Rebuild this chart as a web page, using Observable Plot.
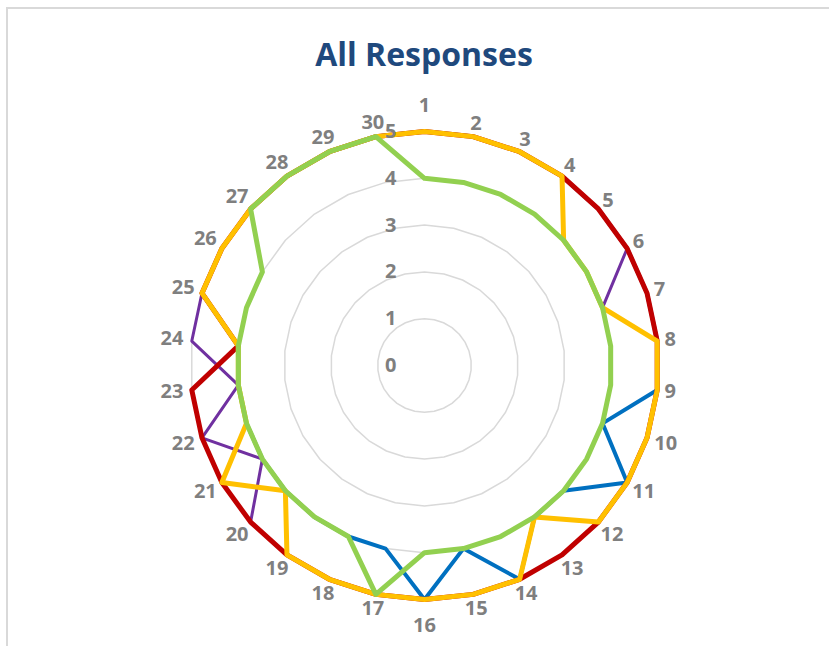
<!DOCTYPE html>
<html>
<head>
<meta charset="utf-8">
<script src="https://cdn.jsdelivr.net/npm/d3@7"></script>
<script src="https://cdn.jsdelivr.net/npm/@observablehq/plot@0.6"></script>
<style>
html, body { margin: 0; padding: 0; background: #fff; overflow: hidden; width: 829px; height: 646px; }
#frame { position: absolute; left: 6px; top: 7px; width: 900px; height: 700px; border-left: 2px solid #d9d9d9; border-top: 2px solid #d9d9d9; box-sizing: border-box; }
#title { position: absolute; left: 0; top: 32px; width: 848px; text-align: center; font-family: "Open Sans", sans-serif; font-weight: 700; font-size: 32px; line-height: 44px; color: #1F497D; margin: 0; }
#chart { position: absolute; left: 0; top: 90px; }
</style>
</head>
<body>
<div id="frame"></div>
<div id="title">All Responses</div>
<div id="chart"></div>
<script>
// ---- data ----
const categories = ["1","2","3","4","5","6","7","8","9","10","11","12","13","14","15","16","17","18","19","20","21","22","23","24","25","26","27","28","29","30"];
const levels = [0, 1, 2, 3, 4, 5];
const seriesNames = ["Series 1", "Series 2", "Series 3", "Series 4", "Series 5"];
const series1 = [5,5,5,5,5,5,5,5,5,4,5,4,4,5,4,5,4,4,4,4,4,4,4,4,5,5,5,5,5,5];
const series2 = [5,5,5,5,5,5,5,5,5,5,5,5,5,5,5,5,5,5,5,5,5,5,5,4,5,5,5,5,5,5];
const series3 = [5,5,5,5,5,5,4,5,5,5,5,5,5,5,5,5,5,5,5,5,4,5,4,5,5,5,5,5,5,5];
const series4 = [5,5,5,5,4,4,4,5,5,5,5,5,4,5,5,5,5,5,5,4,5,4,4,4,5,5,5,5,5,5];
const series5 = [4,4,4,4,4,4,4,4,4,4,4,4,4,4,4,4,5,4,4,4,4,4,4,4,4,4,5,5,5,5];

// ---- styling ----
const colors = {"Series 1": "#0070C0", "Series 2": "#C00000", "Series 3": "#7030A0", "Series 4": "#FFC000", "Series 5": "#92D050"};
const widths = {"Series 1": 4, "Series 2": 5, "Series 3": 3, "Series 4": 5, "Series 5": 5};
const drawOrder = ["Series 3", "Series 1", "Series 2", "Series 4", "Series 5"];
const valuesByName = {"Series 1": series1, "Series 2": series2, "Series 3": series3, "Series 4": series4, "Series 5": series5};

const N = categories.length;
const ang = i => i * 2 * Math.PI / N;
const R = 234;          // px for value 5
const unit = R / 5;     // px per unit
const cx = 424, cy = 365 - 90;

const gridRows = levels.filter(l => l > 0).flatMap(l => categories.map((c, i) => ({level: l, i})));

const lineMarks = drawOrder.map(name => {
  const rows = categories.map((c, i) => ({cat: c, i, v: valuesByName[name][i], series: name}));
  return Plot.line(rows, {
    x: d => d.v * Math.sin(ang(d.i)),
    y: d => d.v * Math.cos(ang(d.i)),
    curve: "linear-closed",
    stroke: colors[name],
    strokeWidth: widths[name],
    strokeLinejoin: "round"
  });
});

const labelR = (c, i) => {
  const s = Math.abs(Math.sin(ang(i))), co = Math.abs(Math.cos(ang(i)));
  return (247 + (co > 0.99 ? 13 : 0) + (c.length - 1) * 7 * s) / unit;
};

const chart = Plot.plot({
  width: 829,
  height: 556,
  margin: 0,
  x: {domain: [-5, 5], range: [cx - R, cx + R], axis: null},
  y: {domain: [-5, 5], range: [cy + R, cy - R], axis: null},
  style: {fontFamily: "Open Sans, sans-serif", background: "transparent"},
  marks: [
    Plot.line(gridRows, {
      x: d => d.level * Math.sin(ang(d.i)),
      y: d => d.level * Math.cos(ang(d.i)),
      z: "level",
      curve: "linear-closed",
      stroke: "#d9d9d9",
      strokeWidth: 1.5
    }),
    ...lineMarks,
    Plot.text(categories, {
      x: (c, i) => labelR(c, i) * Math.sin(ang(i)),
      y: (c, i) => labelR(c, i) * Math.cos(ang(i)),
      text: d => d,
      fill: "#7F7F7F",
      fontWeight: "bold",
      fontSize: 20,
      textAnchor: "middle",
      lineAnchor: "middle"
    }),
    Plot.text(levels, {
      x: () => 0,
      y: d => d,
      text: d => String(d),
      dx: -28,
      fill: "#7F7F7F",
      fontWeight: "bold",
      fontSize: 20,
      textAnchor: "end",
      lineAnchor: "middle"
    })
  ]
});
document.getElementById("chart").appendChild(chart);
</script>
</body>
</html>
